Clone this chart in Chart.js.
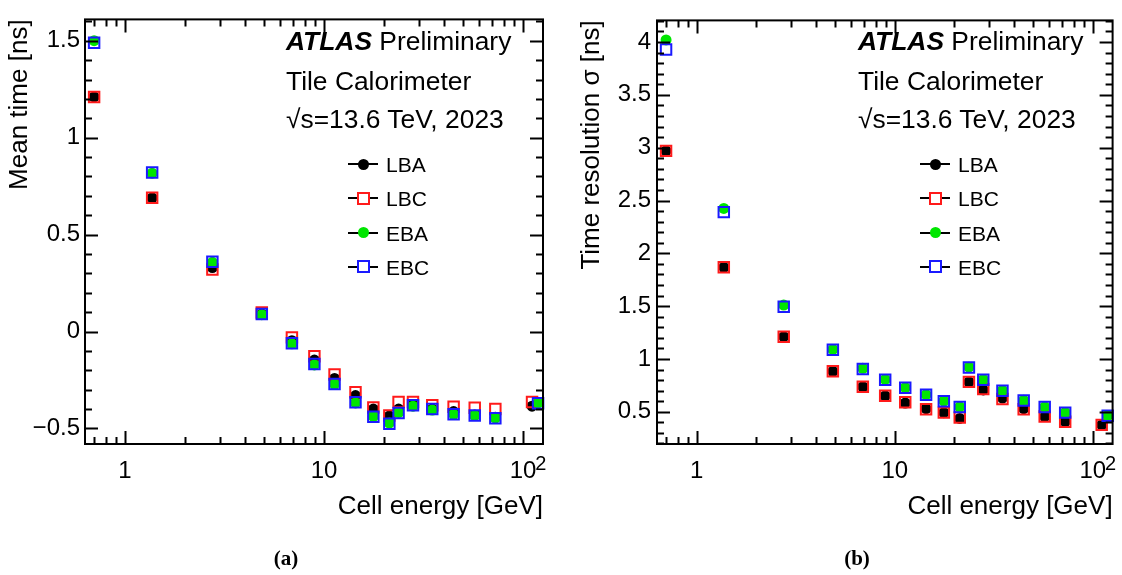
<!DOCTYPE html>
<html>
<head>
<meta charset="utf-8">
<script src="https://cdn.jsdelivr.net/npm/chart.js@4/dist/chart.umd.min.js"></script>
<style>
  body { margin: 0; background: #fff; }
  #wrap { position: relative; width: 1122px; height: 575px; overflow: hidden; font-family: "Liberation Sans", Arial, Helvetica, sans-serif; color: #000; }
  canvas { position: absolute; top: 0; }
  .txt { position: absolute; font-size: 26.4px; line-height: 1; white-space: nowrap; }
  .atlas { font-weight: bold; font-style: italic; }
  .leg { position: absolute; font-size: 21px; line-height: 1; white-space: nowrap; }
  .legline { position: absolute; width: 30px; height: 2px; background: #000; }
  .dot { position: absolute; width: 11px; height: 11px; border-radius: 50%; }
  .sq { position: absolute; width: 9px; height: 9px; border: 2px solid; background: #fff; }
  .cap { position: absolute; width: 60px; text-align: center; font-family: "Liberation Serif", "Times New Roman", serif; font-weight: bold; font-size: 21px; line-height: 1; }
</style>
</head>
<body>
<div id="wrap">
  <canvas id="grafA" width="561" height="575" style="left:0px"></canvas>
  <canvas id="grafB" width="561" height="575" style="left:561px"></canvas>
  <div id="textos"></div>
</div>
<script>
// ---- dados ----
// bins de energia (GeV): barril longo (LB) e barril estendido (EB)
const energyLB = [0.70, 1.37, 2.75, 4.87, 6.9, 8.95, 11.3, 14.4, 17.7, 21.3, 23.7, 28, 35, 44.8, 57.2, 72.6, 111];
const energyEB = [0.70, 1.37, 2.75, 4.87, 6.9, 8.95, 11.3, 14.4, 17.7, 21.3, 23.7, 28, 35, 44.8, 57.2, 72.6, 119];

// (a) tempo medio [ns]
const meanLBA = [1.21, 0.69, 0.33, 0.09, -0.047, -0.147, -0.242, -0.33, -0.40, -0.435, -0.40, -0.38, -0.40, -0.413, -0.43, -0.442, -0.385];
const meanLBC = [1.21, 0.69, 0.32, 0.098, -0.03, -0.127, -0.222, -0.313, -0.392, -0.433, -0.363, -0.363, -0.38, -0.388, -0.393, -0.40, -0.363];
const meanEBA = [1.50, 0.817, 0.357, 0.087, -0.063, -0.172, -0.272, -0.368, -0.438, -0.472, -0.418, -0.385, -0.405, -0.427, -0.433, -0.447, -0.368];
const meanEBC = [1.49, 0.82, 0.36, 0.09, -0.06, -0.167, -0.27, -0.365, -0.44, -0.476, -0.42, -0.38, -0.40, -0.427, -0.433, -0.447, -0.37];

// (b) resolucao temporal [ns]
const resLBA = [2.97, 1.868, 1.211, 0.883, 0.737, 0.651, 0.583, 0.529, 0.492, 0.437, 0.783, 0.707, 0.63, 0.529, 0.455, 0.406, 0.376];
const resLBC = [2.97, 1.868, 1.211, 0.883, 0.737, 0.651, 0.59, 0.523, 0.492, 0.446, 0.783, 0.716, 0.62, 0.523, 0.455, 0.406, 0.376];
const resEBA = [4.02, 2.425, 1.51, 1.09, 0.911, 0.806, 0.729, 0.663, 0.602, 0.547, 0.922, 0.806, 0.702, 0.608, 0.547, 0.494, 0.464];
const resEBC = [3.93, 2.39, 1.495, 1.088, 0.905, 0.804, 0.727, 0.661, 0.60, 0.545, 0.92, 0.804, 0.70, 0.606, 0.545, 0.492, 0.462];

// ticks
const energyTicks = [1, 10, 100];
const energyTickLabels = ['1', '10', '10'];   // expoente do 100 desenhado no plugin
const meanTicks = [-0.5, 0, 0.5, 1, 1.5];
const resTicks = [0.5, 1, 1.5, 2, 2.5, 3, 3.5, 4];

const partitions = ['LBA', 'LBC', 'EBA', 'EBC'];

const FONTE = '"Liberation Sans", Arial, Helvetica, sans-serif';
Chart.defaults.font.family = FONTE;
Chart.defaults.color = '#000';

const X_MIN = 0.63, X_MAX = 126;

function pontos(xs, ys) {
  return xs.map((x, i) => ({ x: x, y: ys[i] }));
}

function fmt(v) {
  const s = String(Math.abs(v));
  return v < 0 ? '\u2212' + s : s;
}

function montarDatasets(lba, lbc, eba, ebc) {
  return [
    { label: 'LBA', data: pontos(energyLB, lba), pointStyle: 'circle', pointRadius: 5.5, pointBorderWidth: 0, pointBackgroundColor: '#000', order: 3 },
    { label: 'LBC', data: pontos(energyLB, lbc), pointStyle: 'rect', pointRadius: 7.4, pointBorderWidth: 2, pointBorderColor: '#ff1a1a', pointBackgroundColor: 'rgba(0,0,0,0)', order: 2 },
    { label: 'EBA', data: pontos(energyEB, eba), pointStyle: 'circle', pointRadius: 5.5, pointBorderWidth: 0, pointBackgroundColor: '#00e600', order: 1 },
    { label: 'EBC', data: pontos(energyEB, ebc), pointStyle: 'rect', pointRadius: 7.4, pointBorderWidth: 2, pointBorderColor: '#1a1aff', pointBackgroundColor: 'rgba(0,0,0,0)', order: 0 }
  ].map(d => Object.assign(d, { showLine: false, clip: false, pointHoverRadius: d.pointRadius }));
}

// moldura e ticks para dentro (estilo ROOT)
const molduraPlugin = {
  id: 'moldura',
  afterDraw(chart) {
    const ctx = chart.ctx;
    const a = chart.chartArea;
    const xs = chart.scales.x;
    const ys = chart.scales.y;
    ctx.save();
    ctx.strokeStyle = '#000';
    ctx.lineWidth = 2;
    ctx.beginPath();
    // eixo x (log)
    for (let dec = 0.1; dec <= 100; dec *= 10) {
      for (let k = 1; k <= 9; k++) {
        const v = dec * k;
        if (v < xs.min || v > xs.max) continue;
        const px = Math.round(xs.getPixelForValue(v)) + 0.5;
        const len = k === 1 ? 13 : 7;
        ctx.moveTo(px, a.bottom); ctx.lineTo(px, a.bottom - len);
        ctx.moveTo(px, a.top); ctx.lineTo(px, a.top + len);
      }
    }
    // eixo y
    const start = Math.ceil(ys.min * 10);
    for (let i = start; i / 10 <= ys.max; i++) {
      const py = Math.round(ys.getPixelForValue(i / 10)) + 0.5;
      const len = (i % 5 === 0) ? 13 : 7;
      ctx.moveTo(a.left, py); ctx.lineTo(a.left + len, py);
      ctx.moveTo(a.right, py); ctx.lineTo(a.right - len, py);
    }
    ctx.stroke();
    ctx.strokeRect(a.left, a.top, a.right - a.left, a.bottom - a.top);

    // expoente "2" do rotulo 10^2
    ctx.font = '24px ' + FONTE;
    const w10 = ctx.measureText('10').width;
    const px100 = xs.getPixelForValue(100);
    ctx.fillStyle = '#000';
    ctx.textAlign = 'left';
    ctx.textBaseline = 'alphabetic';
    ctx.font = '20px ' + FONTE;
    ctx.fillText('2', px100 + w10 / 2 - 1, a.bottom + 26);
    ctx.restore();
  }
};

function montarOpcoes(cfg) {
  return {
    responsive: false,
    animation: false,
    events: [],
    layout: { padding: { left: 0, top: 7, right: cfg.padRight, bottom: 0 } },
    plugins: { legend: { display: false }, tooltip: { enabled: false } },
    scales: {
      x: {
        type: 'logarithmic',
        min: X_MIN, max: X_MAX,
        grid: { display: false, drawTicks: false },
        border: { display: false },
        afterBuildTicks: s => {
          s.ticks = energyTicks.map(v => ({ value: v }));
          s.min = X_MIN;
          s.max = X_MAX;
        },
        afterFit: s => { s.height = 131; },
        ticks: {
          padding: 13, autoSkip: false, maxRotation: 0,
          font: { size: 24 },
          callback: v => energyTickLabels[energyTicks.indexOf(v)]
        },
        title: { display: true, text: 'Cell energy [GeV]', align: 'end', font: { size: 26 }, padding: { top: 0, bottom: 53 } }
      },
      y: {
        min: cfg.yMin, max: cfg.yMax,
        grid: { display: false, drawTicks: false },
        border: { display: false },
        afterBuildTicks: s => {
          s.ticks = cfg.yTicks.map(v => ({ value: v }));
          s.min = cfg.yMin;
          s.max = cfg.yMax;
        },
        afterFit: s => { s.width = cfg.yWidth; },
        ticks: { padding: cfg.yPad, autoSkip: false, font: { size: 24 }, callback: v => fmt(v) },
        title: { display: true, text: cfg.yTitle, align: 'end', font: { size: 26 }, padding: { top: cfg.titlePad, bottom: 0 } }
      }
    }
  };
}

new Chart(document.getElementById('grafA'), {
  type: 'scatter',
  data: { datasets: montarDatasets(meanLBA, meanLBC, meanEBA, meanEBC) },
  options: montarOpcoes({ padRight: 18, yMin: -0.58, yMax: 1.61, yTicks: meanTicks, yWidth: 85, yPad: 5, yTitle: 'Mean time [ns]', titlePad: 4 }),
  plugins: [molduraPlugin]
});

new Chart(document.getElementById('grafB'), {
  type: 'scatter',
  data: { datasets: montarDatasets(resLBA, resLBC, resEBA, resEBC) },
  options: montarOpcoes({ padRight: 9, yMin: 0.195, yMax: 4.205, yTicks: resTicks, yWidth: 96, yPad: 6, yTitle: 'Time resolution σ [ns]', titlePad: 15 }),
  plugins: [molduraPlugin]
});

// ---- textos e legenda (HTML) ----
const textos = document.getElementById('textos');
const cores = { LBA: ['dot', '#000'], LBC: ['sq', '#ff1a1a'], EBA: ['dot', '#00e600'], EBC: ['sq', '#1a1aff'] };

[85, 657].forEach((x0, idx) => {
  let html = '';
  html += `<div class="txt" style="left:${x0 + 201}px;top:28px"><span class="atlas">ATLAS</span> Preliminary</div>`;
  html += `<div class="txt" style="left:${x0 + 201}px;top:68px">Tile Calorimeter</div>`;
  html += `<div class="txt" style="left:${x0 + 201}px;top:106px">√s=13.6 TeV, 2023</div>`;
  partitions.forEach((p, i) => {
    const yc = 164 + i * 34.3;
    const [tipo, cor] = cores[p];
    html += `<div class="legline" style="left:${x0 + 263}px;top:${yc - 1}px"></div>`;
    if (tipo === 'dot') {
      html += `<div class="dot" style="left:${x0 + 272.5}px;top:${yc - 5.5}px;background:${cor}"></div>`;
    } else {
      html += `<div class="sq" style="left:${x0 + 272}px;top:${yc - 6.5}px;border-color:${cor}"></div>`;
    }
    html += `<div class="leg" style="left:${x0 + 301}px;top:${yc - 10}px">${p}</div>`;
  });
  html += `<div class="cap" style="left:${idx === 0 ? 256 : 827}px;top:548px">${idx === 0 ? '(a)' : '(b)'}</div>`;
  textos.innerHTML += html;
});
</script>
</body>
</html>
